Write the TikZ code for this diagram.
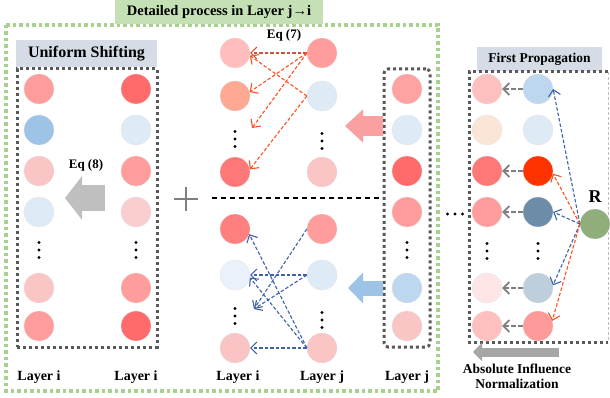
\documentclass[tikz,border=0pt]{standalone}
\usepackage{fontspec}
\setmainfont{Liberation Serif}
\usepackage{xcolor}
\usepackage{tikz}
\usetikzlibrary{arrows.meta,positioning,calc}
\definecolor{TitleGreen}{HTML}{C5E0B4}
\definecolor{DotGreen}{HTML}{A9D18E}
\definecolor{BoxGray}{HTML}{595959}
\definecolor{HeadGray}{HTML}{D6DCE5}
\definecolor{LinkRed}{HTML}{FF4F1F}
\definecolor{LinkBrown}{HTML}{C8553A}
\definecolor{LinkBlue}{HTML}{3C62AA}
\definecolor{BackGray}{HTML}{7F7F7F}
\definecolor{ShiftGray}{HTML}{BFBFBF}
\definecolor{NormGray}{HTML}{A6A6A6}
\definecolor{PinkArrow}{HTML}{FAA0A0}
\definecolor{BlueArrow}{HTML}{9DC3E6}
\definecolor{RootGreen}{HTML}{90AD7C}
\definecolor{NPink}{HTML}{FF9D9D}
\definecolor{NPinkLt}{HTML}{F9C5C5}
\definecolor{NRed}{HTML}{FF6B6B}
\definecolor{NBlue}{HTML}{9DC3E6}
\definecolor{NBlueLt}{HTML}{DEEAF6}
\definecolor{NSky}{HTML}{BDD7EE}
\definecolor{NSalmon}{HTML}{FFA894}
\definecolor{NRose}{HTML}{FFBDBD}
\definecolor{NCoral}{HTML}{FF7878}
\definecolor{NPale}{HTML}{EAF1FA}
\definecolor{NPeach}{HTML}{FBE5D6}
\definecolor{NBlush}{HTML}{FFE5E5}
\definecolor{NScarlet}{HTML}{FF3300}
\definecolor{NSlate}{HTML}{6D8CA8}
\definecolor{NMist}{HTML}{BFCEDD}

\tikzset{
  neuron/.style={circle,minimum size=30pt,inner sep=0pt,draw=black!10,line width=0.3pt},
  lbl/.style={font=\bfseries\fontsize{14}{15}\selectfont},
  eqlbl/.style={font=\bfseries\fontsize{13}{14}\selectfont},
  hdr/.style={fill=HeadGray,inner sep=0pt},
  dotbox/.style={draw=BoxGray,line width=3pt,dash pattern=on 3pt off 3pt},
  greenbox/.style={draw=DotGreen,line width=3.5pt,dash pattern=on 3.5pt off 3pt},
  redlink/.style={draw=LinkRed,line width=1.1pt,dash pattern=on 3.5pt off 2pt,-{Straight Barb[length=6pt,width=12pt]}},
  bluelink/.style={redlink,draw=LinkBlue},
  backlink/.style={draw=BackGray,line width=1.8pt,dash pattern=on 5pt off 2pt,-{Straight Barb[length=6pt,width=12pt]}}
}
\newcommand{\vdts}[1]{\foreach \k in {-7.5,0,7.5} \fill ($(#1)+(0,\k)$) circle (1.6pt);}
\newcommand{\hdts}[1]{\foreach \k in {-7.5,0,7.5} \fill ($(#1)+(\k,0)$) circle (1.6pt);}

\begin{document}
\begin{tikzpicture}[x=1pt,y=-1pt]
  \useasboundingbox (0,0) rectangle (610,398);

  % outer frame and title
  \draw[greenbox] (6,25) rectangle (438,391);
  \node[fill=TitleGreen,minimum width=208pt,minimum height=24pt,inner sep=0pt,font=\bfseries\fontsize{14.5}{16}\selectfont] (title) at (219,12) {Detailed process in Layer j→i};

  % uniform shifting
  \node[hdr,minimum width=141pt,minimum height=27pt,font=\bfseries\fontsize{16}{18}\selectfont] (ushead) at (86.5,54) {Uniform Shifting};
  \node[dotbox,minimum width=140pt,minimum height=278pt,inner sep=0pt] (ubox) at (87,208) {};
  \foreach \n/\y/\c in {1/89/NPink,2/130/NBlue,3/171/NPinkLt,4/212/NBlueLt,6/288/NPinkLt,7/326/NPink}
    \node[neuron,fill=\c] (sl\n) at (39,\y) {};
  \foreach \n/\y/\c in {1/89/NRed,2/130/NBlueLt,3/171/NPink,4/212/NPinkLt!85!white,6/288/NPink,7/326/NRed}
    \node[neuron,fill=\c] (sr\n) at (136,\y) {};
  \coordinate (sld) at (39,250); \vdts{sld}
  \coordinate (srd) at (136,250); \vdts{srd}
  \node[eqlbl] (eq8) at (86,165) {Eq (8)};
  \coordinate (shs) at (105,198);
  \coordinate (she) at (65,198);
  \draw[ShiftGray,line width=25pt,-{Triangle[length=17pt,width=43pt]}] (shs) -- (she);

  % plus
  \coordinate (plus) at (186,199);
  \draw[BackGray,line width=2pt] ($(plus)+(-12,0)$) -- ($(plus)+(12,0)$) ($(plus)+(0,-12)$) -- ($(plus)+(0,12)$);

  % detailed process, upper part
  \node[eqlbl] (eq7) at (284,35) {Eq (7)};
  \foreach \n/\y/\c in {1/53/NRose,2/96/NSalmon,4/172/NCoral}
    \node[neuron,fill=\c] (ul\n) at (235,\y) {};
  \foreach \n/\y/\c in {1/53/NPink,2/96/NBlueLt,4/172/NPinkLt}
    \node[neuron,fill=\c] (ur\n) at (322,\y) {};
  \coordinate (uld) at (235,139); \vdts{uld}
  \coordinate (urd) at (322,141); \vdts{urd}
  \coordinate (uarr) at (252,128);
  \draw[redlink,draw=LinkBrown] (ur1.west) -- (ul1.east);
  \draw[redlink] (ur1.west) -- (ul2.15);
  \draw[redlink] (ur1.west) -- (uarr);
  \draw[redlink] (ur2.west) -- (ul1.-10);
  \draw[redlink] (ur2.west) -- (ul4.10);

  % dividing line
  \draw[line width=2pt,dash pattern=on 5pt off 4pt] (212,198) -- (384,198);

  % detailed process, lower part
  \foreach \n/\y/\c in {1/229/NCoral!85!NPink,2/275/NPale,4/348/NPinkLt!90!NRose}
    \node[neuron,fill=\c] (ll\n) at (235,\y) {};
  \foreach \n/\y/\c in {1/229/NPink,2/275/NBlueLt,4/348/NPinkLt}
    \node[neuron,fill=\c] (lr\n) at (322,\y) {};
  \coordinate (lld) at (235,316); \vdts{lld}
  \coordinate (lrd) at (322,320); \vdts{lrd}
  \coordinate (larr) at (254,309);
  \draw[bluelink] (lr1.west) -- (larr);
  \draw[bluelink] (lr2.west) -- (ll2.east);
  \draw[bluelink] (lr2.west) -- (larr);
  \draw[bluelink] (lr4.west) -- (ll1.-20);
  \draw[bluelink] (lr4.west) -- (ll2.-10);
  \draw[bluelink] (lr4.west) -- (ll4.east);

  % layer j column
  \node[dotbox,rounded corners=4pt,minimum width=46pt,minimum height=278pt,inner sep=0pt] (jbox) at (407,208) {};
  \foreach \n/\y/\c in {1/89/NPink!85!NRose,2/130/NBlueLt,3/171/NRed,4/212/NPink,6/288/NSky,7/326/NPinkLt}
    \node[neuron,fill=\c] (jc\n) at (407,\y) {};
  \coordinate (jcd) at (407,250); \vdts{jcd}
  \draw[PinkArrow,line width=20pt,-{Triangle[length=18pt,width=32pt]}] (jbox.west |- 0,126) -- (345,126);
  \draw[BlueArrow,line width=15pt,-{Triangle[length=15pt,width=30pt]}] (jbox.west |- jc6) -- (348,288);

  % first propagation
  \coordinate (gap) at (455,214); \hdts{gap}
  \node[hdr,minimum width=125pt,minimum height=24pt,font=\bfseries\fontsize{13.5}{15}\selectfont] (fphead) at (539.5,59) {First Propagation};
  \draw[dotbox] (608,72) -- (469,72) -- (469,342) -- (608,342);
  \draw[black!25,line width=0.8pt,dash pattern=on 3pt off 2pt] (608,72) -- (608,342);
  \foreach \n/\y/\c in {1/89/NRose!80!NPinkLt,2/130/NPeach,3/171/NCoral,4/212/NPink,6/288/NBlush,7/326/NRose!80!NPinkLt}
    \node[neuron,fill=\c] (pl\n) at (487,\y) {};
  \foreach \n/\y/\c in {1/89/NSky,2/130/NBlueLt,3/171/NScarlet,4/212/NSlate,6/288/NMist,7/326/NPink!95!NRed}
    \node[neuron,fill=\c] (pr\n) at (538,\y) {};
  \coordinate (pld) at (487,251); \vdts{pld}
  \coordinate (prd) at (538,251); \vdts{prd}
  \foreach \n in {1,3,4,6,7}
    \draw[backlink] (pr\n.west) -- (pl\n.east);

  \node[neuron,fill=RootGreen] (R) at (595,224) {};
  \node[font=\bfseries\fontsize{18}{20}\selectfont] (rlab) at (595,197) {R};
  \draw[bluelink] (R.west) -- (pr1.east);
  \draw[redlink] (R.west) -- (pr3.-10);
  \draw[bluelink] (R.west) -- (pr4.east);
  \draw[bluelink] (R.west) -- (pr6.10);
  \draw[redlink] (R.west) -- (pr7.20);

  \coordinate (nrs) at (559,352);
  \coordinate (nre) at (473,352);
  \draw[NormGray,line width=9pt,-{Triangle[length=9pt,width=18pt]}] (nrs) -- (nre);
  \node[lbl,align=center,font=\bfseries\fontsize{13.5}{15}\selectfont] (absn) at (517,376) {Absolute Influence\\Normalization};

  % layer labels
  \node[lbl] (lab1) at (39,377) {Layer i};
  \node[lbl] (lab2) at (136,377) {Layer i};
  \node[lbl] (lab3) at (238,377) {Layer i};
  \node[lbl] (lab4) at (322,377) {Layer j};
  \node[lbl] (lab5) at (407,377) {Layer j};
\end{tikzpicture}
\end{document}
